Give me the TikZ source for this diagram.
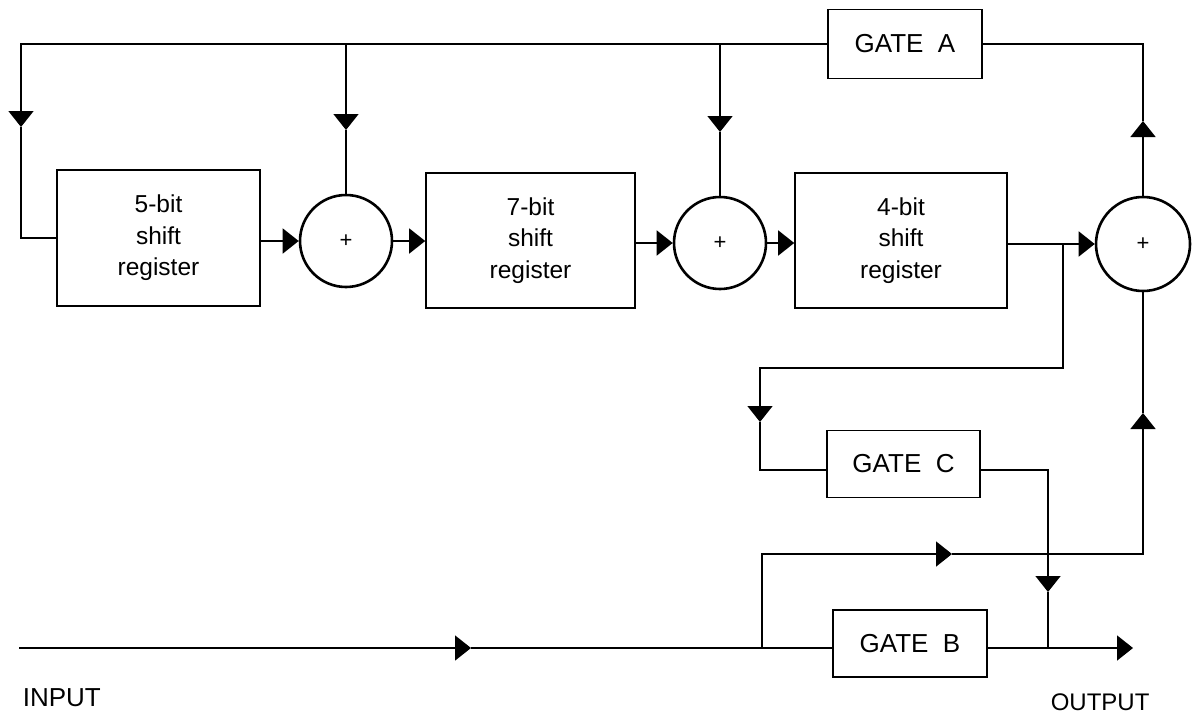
\documentclass[tikz,border=0pt]{standalone}
\usepackage{fontspec}
\setmainfont{Liberation Sans}
\usetikzlibrary{arrows.meta}
\begin{document}
\begin{tikzpicture}[x=1pt,y=-1pt,
  line width=1.6pt,
  reg/.style={draw, rectangle, line width=1.6pt, align=center, font=\fontsize{24.5}{31.5}\selectfont, inner sep=0pt},
  gate/.style={draw, rectangle, line width=1.6pt, font=\fontsize{26}{30}\selectfont, inner sep=0pt},
  adder/.style={draw, circle, line width=2.6pt, minimum size=92pt, inner sep=0pt, font=\fontsize{22}{24}\selectfont},
  tip/.style={-{Triangle[length=16pt,width=25pt]}},
  lab/.style={inner sep=0pt, anchor=base west}
]
\useasboundingbox (0,0) rectangle (1196,717);

% blocks
\node[reg, minimum width=203pt, minimum height=136pt] (sr5) at (158.5,238) {5-bit\\shift\\register};
\node[adder] (c1) at (346,241) {+};
\node[reg, minimum width=209pt, minimum height=135pt] (sr7) at (530.5,240.5) {7-bit\\shift\\register};
\node[adder] (c2) at (720,243) {+};
\node[reg, minimum width=212pt, minimum height=135pt] (sr4) at (901,240.5) {4-bit\\shift\\register};
\node[adder, minimum size=94pt] (c3) at (1143,244) {+};
\node[gate, minimum width=154pt, minimum height=69pt] (gA) at (905,44) {GATE\ \ A};
\node[gate, minimum width=153pt, minimum height=67pt] (gC) at (903.5,464) {GATE\ \ C};
\node[gate, minimum width=154pt, minimum height=67pt] (gB) at (910,643.5) {GATE\ \ B};

% labels
\node[lab, font=\fontsize{26}{30}\selectfont] (inlab) at (22,706) {INPUT};
\node[lab, font=\fontsize{24}{30}\selectfont] (outlab) at (1050,710) {OUTPUT};

% routing points
\coordinate (tl) at (21,44);
\coordinate (a1) at (21,127);
\coordinate (l1) at (21,238);
\coordinate (j1) at (346,44);
\coordinate (a2) at (346,130);
\coordinate (j2) at (720,44);
\coordinate (a3) at (720,132);
\coordinate (tr) at (1143,44);
\coordinate (a4) at (1143,121);
\coordinate (jo) at (1063,244);
\coordinate (b1) at (1063,368);
\coordinate (b2) at (760,368);
\coordinate (a5) at (760,422);
\coordinate (b3) at (760,470);
\coordinate (b4) at (1048,470);
\coordinate (a6) at (1048,592);
\coordinate (jout) at (1048,648);
\coordinate (in) at (19,648);
\coordinate (a7) at (471,648);
\coordinate (jin) at (762,648);
\coordinate (b5) at (762,554);
\coordinate (a8) at (952,554);
\coordinate (b6) at (1143,554);
\coordinate (a9) at (1143,413);
\coordinate (out) at (1133,648);

% top feedback bus
\draw[tip] (gA.west) -- (tl) -- (a1);
\draw (a1) -- (l1) -- (sr5.west);
\draw[tip] (j1) -- (a2);
\draw (a2) -- (c1.north);
\draw[tip] (j2) -- (a3);
\draw (a3) -- (c2.north);
\draw[tip] (c3.north) -- (a4);
\draw (a4) -- (tr) -- (gA.east);

% main chain
\draw[tip] (sr5.east |- c1.west) -- (c1.west);
\draw[tip] (c1.east) -- (c1.east -| sr7.west);
\draw[tip] (sr7.east |- c2.west) -- (c2.west);
\draw[tip] (c2.east) -- (c2.east -| sr4.west);
\draw[tip] (sr4.east |- c3.west) -- (c3.west);

% gate C loop
\draw[tip] (jo) -- (b1) -- (b2) -- (a5);
\draw (a5) -- (b3) -- (gC.west |- b3);
\draw[tip] (gC.east |- b4) -- (b4) -- (a6);
\draw (a6) -- (jout);

% input / gate B / output
\draw[tip] (in) -- (a7);
\draw (a7) -- (gB.west |- a7);
\draw[tip] (gB.east |- out) -- (out);
\draw[tip] (jin) -- (b5) -- (a8);
\draw[tip] (a8) -- (b6) -- (a9);
\draw (a9) -- (c3.south);
\end{tikzpicture}
\end{document}
